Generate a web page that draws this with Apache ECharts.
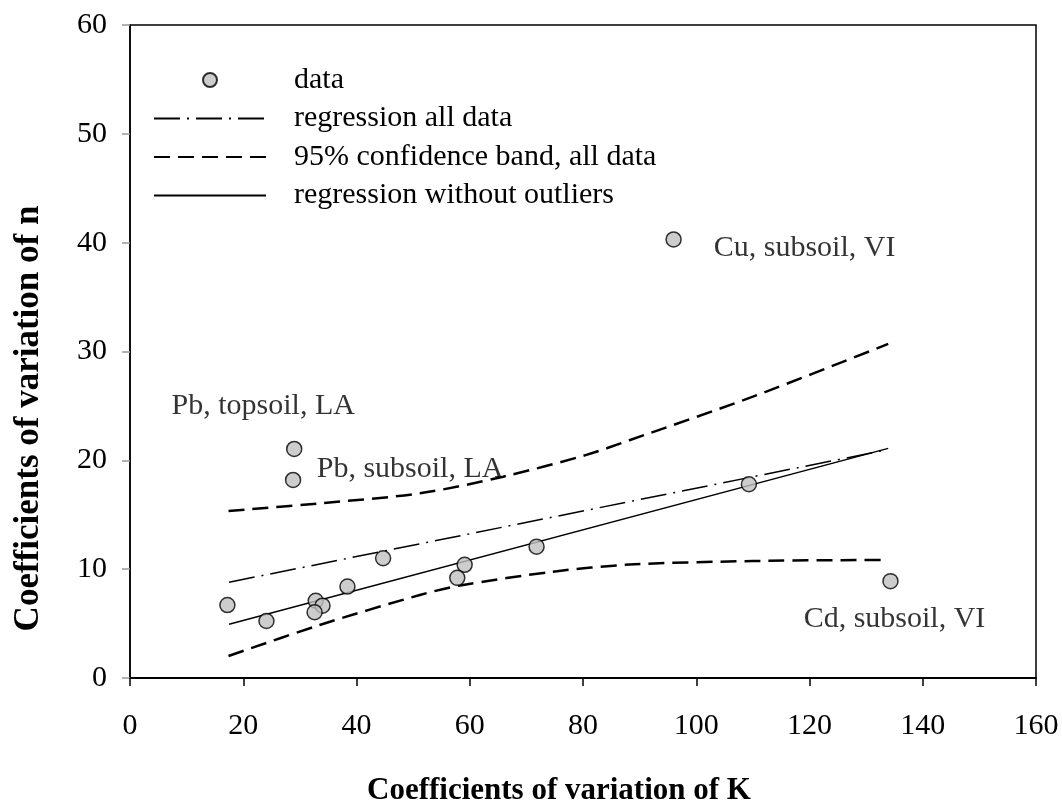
<!DOCTYPE html>
<html>
<head>
<meta charset="utf-8">
<style>
  html, body { margin: 0; padding: 0; background: #fff; }
  #chart { width: 1062px; height: 805px; }
</style>
<script src="https://cdn.jsdelivr.net/npm/echarts@6/dist/echarts.min.js"></script>
</head>
<body>
<div id="chart"></div>
<script>
// Coefficients of variation: K (x) against n (y)
const points = [
  [17.2, 6.7], [24.1, 5.24], [32.8, 7.1], [34.0, 6.65], [32.6, 6.04],
  [38.4, 8.4], [44.7, 11.0], [59.1, 10.4], [57.8, 9.2], [71.8, 12.07],
  [109.3, 17.8]
];
// outliers, with their annotations
const outliers = [
  { value: [29.0, 21.05], name: 'Pb, topsoil, LA' },
  { value: [28.8, 18.2], name: 'Pb, subsoil, LA' },
  { value: [96.0, 40.3], name: 'Cu, subsoil, VI' },
  { value: [134.3, 8.9], name: 'Cd, subsoil, VI' }
];
const regressionAll = [[17.5, 8.8], [133.5, 20.95]];
const regressionClean = [[17.5, 4.93], [133.9, 21.1]];
const bandUpper = [
  [17.4, 15.35], [33.5, 16.05], [51.2, 16.97], [65.9, 18.5],
  [80.6, 20.5], [88.2, 21.85], [110.0, 25.85], [133.9, 30.7]
];
const bandLower = [
  [17.4, 2.02], [33.5, 4.87], [51.2, 7.63], [58.3, 8.5],
  [74.7, 9.77], [88.2, 10.42], [110.0, 10.75], [133.6, 10.85]
];
const xTicks = { min: 0, max: 160, interval: 20 };
const yTicks = { min: 0, max: 60, interval: 10 };

const FONT = '"Liberation Serif", "Times New Roman", serif';
const LABEL_OFFSETS = {
  'Pb, topsoil, LA': [-31, -43],
  'Pb, subsoil, LA': [117, -11],
  'Cu, subsoil, VI': [131, 9],
  'Cd, subsoil, VI': [4, 38]
};

const chart = echarts.init(document.getElementById('chart'), null, { renderer: 'canvas' });

const markerStyle = { color: '#c0c0c0', borderColor: '#000', borderWidth: 1.5 };

chart.setOption({
  animation: false,
  backgroundColor: '#fff',
  textStyle: { fontFamily: FONT },
  grid: {
    left: 130, right: 26, top: 25, bottom: 127,
    outerBoundsMode: 'none', containLabel: false,
    show: true, borderColor: '#000', borderWidth: 1.5, backgroundColor: 'transparent'
  },
  legend: {
    orient: 'vertical',
    left: 153, top: 65, padding: 0,
    itemWidth: 112, itemHeight: 14, itemGap: 8.5,
    textStyle: { fontFamily: FONT, fontSize: 30, lineHeight: 30, color: '#000', padding: [0, 0, 0, 23] },
    data: [
      { name: 'data', icon: 'circle' },
      'regression all data',
      '95% confidence band, all data',
      'regression without outliers'
    ]
  },
  xAxis: {
    type: 'value',
    min: xTicks.min, max: xTicks.max, interval: xTicks.interval,
    name: 'Coefficients of variation of K',
    nameLocation: 'middle', nameGap: 97,
    nameTextStyle: { fontFamily: FONT, fontSize: 31, fontWeight: 'bold', color: '#000', padding: [0, 48, 0, 0] },
    axisLine: { lineStyle: { color: '#000', width: 2 } },
    axisTick: { show: true, inside: false, length: 8, lineStyle: { color: '#000', width: 1.5 } },
    axisLabel: { margin: 33, fontFamily: FONT, fontSize: 30, color: '#000' },
    splitLine: { show: false }
  },
  yAxis: {
    type: 'value',
    min: yTicks.min, max: yTicks.max, interval: yTicks.interval,
    name: 'Coefficients of variation of n',
    nameLocation: 'middle', nameGap: 84, nameRotate: 90,
    nameTextStyle: { fontFamily: FONT, fontSize: 35, fontWeight: 'bold', color: '#000', padding: [0, 134, 0, 0] },
    axisLine: { lineStyle: { color: '#000', width: 1.5 } },
    axisTick: { show: true, inside: false, length: 8, lineStyle: { color: '#999', width: 1.5 } },
    axisLabel: { margin: 23, fontFamily: FONT, fontSize: 30, color: '#000' },
    splitLine: { show: false }
  },
  series: [
    {
      name: 'regression all data',
      type: 'line', data: regressionAll, symbol: 'none', silent: true,
      lineStyle: { color: '#000', width: 1.5, type: [26, 7, 2, 7] },
      itemStyle: { color: '#000', opacity: 0 },
      z: 2
    },
    {
      name: '95% confidence band, all data',
      type: 'line', data: bandUpper, symbol: 'none', smooth: 0.3, silent: true,
      lineStyle: { color: '#000', width: 2.5, type: [16, 8] },
      itemStyle: { color: '#000', opacity: 0 },
      z: 2
    },
    {
      name: '95% confidence band, all data',
      type: 'line', data: bandLower, symbol: 'none', smooth: 0.3, silent: true,
      lineStyle: { color: '#000', width: 2.5, type: [16, 8] },
      itemStyle: { color: '#000', opacity: 0 },
      z: 2
    },
    {
      name: 'regression without outliers',
      type: 'line', data: regressionClean, symbol: 'none', silent: true,
      lineStyle: { color: '#000', width: 1.5, type: 'solid' },
      itemStyle: { color: '#000', opacity: 0 },
      z: 2
    },
    {
      name: 'data',
      type: 'scatter', symbol: 'circle', symbolSize: 15, symbolKeepAspect: true,
      itemStyle: markerStyle,
      data: points.concat(outliers.map(o => ({
        value: o.value,
        name: o.name,
        label: {
          show: true,
          position: 'inside',
          offset: LABEL_OFFSETS[o.name],
          formatter: o.name,
          fontFamily: FONT, fontSize: 30, color: '#000',
          textBorderWidth: 0, textBorderColor: 'transparent'
        }
      }))),
      z: 3
    }
  ]
});
</script>
</body>
</html>
